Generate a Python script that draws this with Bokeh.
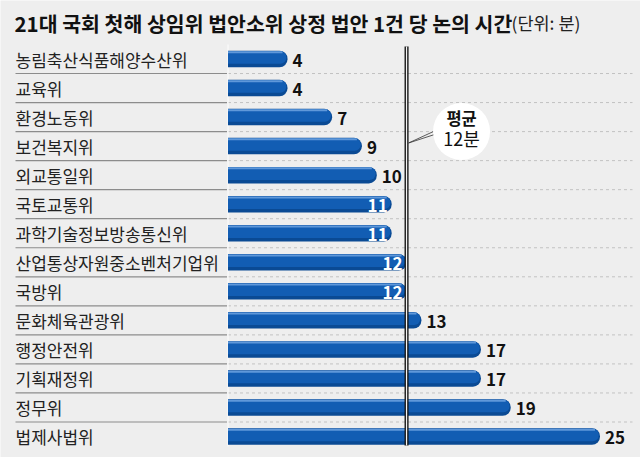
from bokeh.plotting import figure
from bokeh.models import Range1d, HBar
from bokeh.core.properties import value
from bokeh.embed import file_html
from bokeh.resources import INLINE

# ---------------- data ----------------
title_text = "21대 국회 첫해 상임위 법안소위 상정 법안 1건 당 논의 시간"
unit_text = "(단위: 분)"
committees = ["농림축산식품해양수산위", "교육위", "환경노동위", "보건복지위", "외교통일위",
              "국토교통위", "과학기술정보방송통신위", "산업통상자원중소벤처기업위", "국방위",
              "문화체육관광위", "행정안전위", "기획재정위", "정무위", "법제사법위"]
minutes = [4, 4, 7, 9, 10, 11, 11, 12, 12, 13, 17, 17, 19, 25]
mean_minutes = 12
mean_title = "평균"
mean_value_text = "12분"

# ---------------- layout ----------------
W, H = 640, 457
X0 = 227.5   # pixel of zero minutes
SX = 14.88   # pixels per minute
Y0 = 58.5    # pixel of first row centre
SY = 29.04   # pixels per row

def px_x(px):
    return (px - X0) / SX

def px_y(py):
    return (py - Y0) / SY

def dx(px):
    return px / SX

def dy(py):
    return py / SY

FONT = value("Noto Sans CJK KR")
BG = "#eeeeee"

p = figure(width=W, height=H,
           x_range=Range1d(px_x(0), px_x(W)),
           y_range=Range1d(px_y(H), px_y(0)),
           x_axis_type=None, y_axis_type=None,
           output_backend="svg", toolbar_location=None,
           min_border=0, background_fill_color=BG, border_fill_color=BG,
           outline_line_color=None)

n = len(minutes)
rows = list(range(n))
seps = [r + 0.5 for r in rows[:-1]]

# row separators
p.segment(x0=px_x(15), x1=px_x(226.5), y0=seps, y1=seps, line_color="#8c8c8c", line_width=1.2)
p.segment(x0=0, x1=px_x(632), y0=seps, y1=seps, line_color="#c2c2c2", line_width=1, line_dash="3 3")
p.segment(x0=[0], x1=[0], y0=[px_y(44)], y1=[px_y(446)], line_color="#fbfbfb", line_width=1.2)

# category labels
p.text(x=[px_x(15)] * n, y=rows, text=committees, text_font=FONT, text_font_size="17px",
       text_color="#222222", text_align="left", text_baseline="middle")

# bars
HAS_BR = "border_radius" in HBar.properties()
bar_h = dy(16.5)
if HAS_BR:
    p.hbar(y=rows, left=0, right=minutes, height=bar_h, fill_color="#0a4a94", line_color=None,
           border_radius=(0, 8, 8, 0))
    p.hbar(y=[r - dy(1.5) for r in rows], left=0, right=[m - dx(1.2) for m in minutes],
           height=dy(12.5), fill_color="#125db3", line_color=None, border_radius=(0, 6, 6, 0))
    p.hbar(y=[r - dy(6.8) for r in rows], left=0, right=[m - dx(5) for m in minutes],
           height=dy(2), fill_color="#5f98da", line_color=None)
else:
    cap = dx(8)
    p.hbar(y=rows, left=0, right=[m - cap for m in minutes], height=bar_h,
           fill_color="#0f56a8", line_color=None)
    p.ellipse(x=[m - cap for m in minutes], y=rows, width=2 * cap, height=bar_h,
              fill_color="#0f56a8", line_color=None)
    p.hbar(y=[r - dy(6.8) for r in rows], left=0, right=[m - dx(5) for m in minutes],
           height=dy(2), fill_color="#5f98da", line_color=None)

# value labels
inside = [(mean_minutes - 1) <= m <= mean_minutes for m in minutes]
out_x = [m for m, k in zip(minutes, inside) if not k]
out_y = [r for r, k in zip(rows, inside) if not k]
out_t = [str(m) for m, k in zip(minutes, inside) if not k]
in_x = [m for m, k in zip(minutes, inside) if k]
in_y = [r for r, k in zip(rows, inside) if k]
in_t = [str(m) for m, k in zip(minutes, inside) if k]
p.text(x=out_x, y=out_y, text=out_t, x_offset=5, y_offset=1, text_font=FONT, text_font_style="bold",
       text_font_size="17px", text_color="#111111", text_align="left", text_baseline="middle")
p.text(x=in_x, y=in_y, text=in_t, x_offset=-4, y_offset=1, text_font=FONT, text_font_style="bold",
       text_font_size="17px", text_color="#ffffff", text_align="right", text_baseline="middle")

# mean line (double)
p.segment(x0=[mean_minutes], x1=[mean_minutes], y0=[px_y(46)], y1=[px_y(445)],
          line_color="#111111", line_width=4)
p.segment(x0=[mean_minutes], x1=[mean_minutes], y0=[px_y(46)], y1=[px_y(445)],
          line_color="#f4f4f4", line_width=1.3)

# mean annotation
cx = mean_minutes + dx(55)
p.segment(x0=[mean_minutes + dx(2), mean_minutes + dx(2)], x1=[cx - dx(27), cx - dx(27)],
          y0=[px_y(142.5), px_y(142.5)], y1=[px_y(130.5), px_y(134)],
          line_color="#333333", line_width=0.8)
p.scatter(x=[cx], y=[px_y(131)], size=57, marker="circle", fill_color="#ffffff", line_color=None)
p.text(x=[cx], y=[px_y(117)], text=[mean_title], text_font=FONT, text_font_style="bold",
       text_font_size="16.5px", text_color="#111111", text_align="center", text_baseline="middle")
p.text(x=[cx], y=[px_y(137)], text=[mean_value_text], text_font=FONT,
       text_font_size="18px", text_color="#111111", text_align="center", text_baseline="middle")

# title
p.text(x=[px_x(14)], y=[px_y(22)], text=[title_text], text_font=FONT, text_font_style="bold",
       text_font_size="20.5px", text_color="#111111", text_align="left", text_baseline="middle")
p.text(x=[px_x(511)], y=[px_y(22)], text=[unit_text], text_font=FONT,
       text_font_size="17.5px", text_color="#222222", text_align="left", text_baseline="middle")

open("out.html", "w").write(file_html(p, INLINE))
